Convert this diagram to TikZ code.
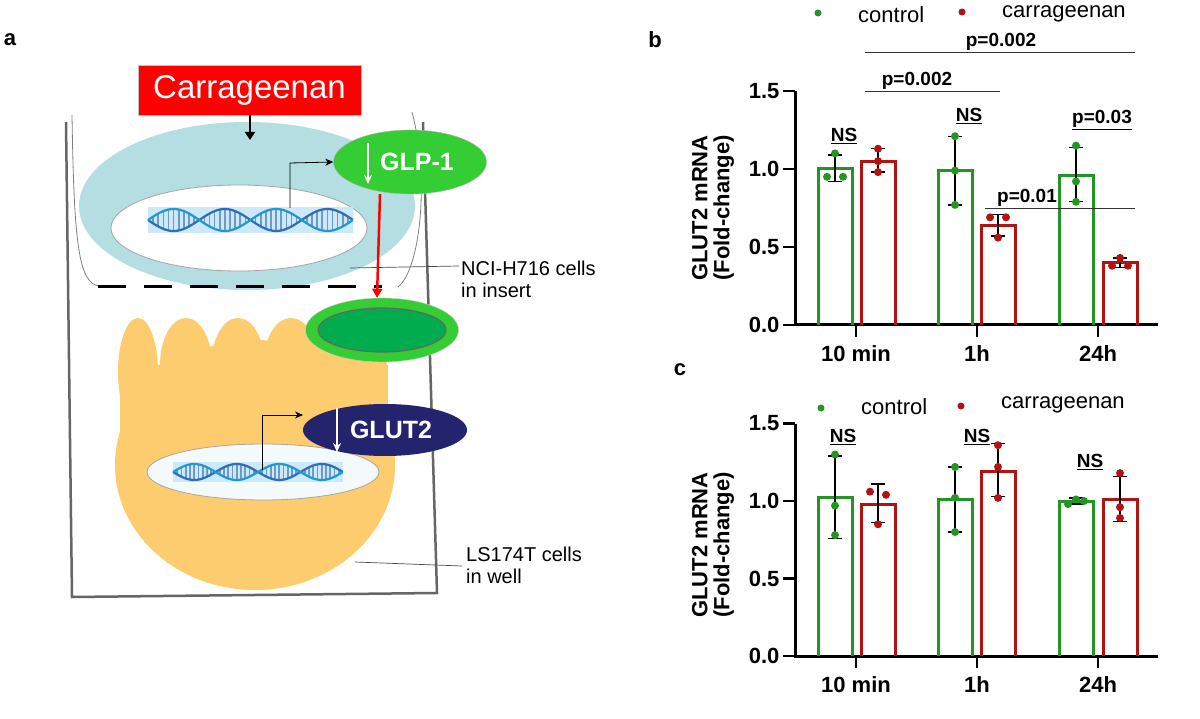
\documentclass[tikz,border=0pt]{standalone}
\usepackage{fontspec}
\setmainfont{Liberation Sans}
\usetikzlibrary{arrows.meta,shapes.geometric}
\definecolor{cgreen}{RGB}{34,150,34}
\definecolor{cred}{RGB}{178,18,18}
\definecolor{cellblue}{RGB}{180,222,226}
\definecolor{yell}{RGB}{253,204,110}
\definecolor{glpgreen}{RGB}{52,205,52}
\definecolor{dkgreen}{RGB}{0,172,78}
\definecolor{navy}{RGB}{36,36,110}
\definecolor{dnablue}{RGB}{45,110,180}
\definecolor{dnalight}{RGB}{205,232,248}
\newcommand\fs[1]{\fontsize{#1}{#1}\selectfont}
% xc val lo hi p1 p2 p3 color jitter
\newcommand\mybar[9]{%
  \draw[#8,line width=3pt] (#1-17,0) -- (#1-17,#2) -- (#1+17,#2) -- (#1+17,0);
  \draw[black,line width=1.3pt] (#1,#3) -- (#1,#4) (#1-7,#3) -- (#1+7,#3) (#1-7,#4) -- (#1+7,#4);
  \fill[#8] (#1,#5) circle (4pt) (#1-#9,#6) circle (4pt) (#1+#9,#7) circle (4pt);
}
% dna: x0 x1 yc amp
\newcommand\mydna[4]{%
  \fill[dnalight] (#1,#3-#4-2) rectangle (#2,#3+#4+2);
  \foreach \k in {0,...,40}{\pgfmathsetmacro\xx{#1+\k*(#2-#1)/40}
    \pgfmathsetmacro\yy{#4*sin(\k*18)}
    \draw[dnablue!70,line width=1.6pt] (\xx,#3-\yy) -- (\xx,#3+\yy);}
  \draw[dnablue,line width=2.2pt,domain=0:1,samples=80] plot ({#1+\x*(#2-#1)},{#3+#4*sin(\x*720)});
  \draw[dnablue!70!cyan,line width=2.2pt,domain=0:1,samples=80] plot ({#1+\x*(#2-#1)},{#3-#4*sin(\x*720)});
}
\begin{document}
\begin{tikzpicture}[x=1pt,y=-1pt,
  lab/.style={font=\fs{20}, align=left, anchor=west, inner sep=0pt},
  tick/.style={font=\bfseries\fs{22}},
  ann/.style={font=\bfseries\fs{19}, inner sep=1pt},
  leg/.style={font=\fs{22}, anchor=west, inner sep=0pt},
  plab/.style={font=\bfseries\fs{22}, inner sep=0pt},
  ylab/.style={font=\bfseries\fs{22},rotate=90,align=center},
  prot/.style={ellipse, inner sep=0pt, font=\bfseries\fs{25}, text=white}]
\useasboundingbox (0,0) rectangle (1200,719);
\fill[white] (0,0) rectangle (1200,719);

% ================= panel a
\node[plab] (la) at (10,40) {a};
% well
\draw[gray!80!black,line width=2.5pt] (66,122) -- (72,597) -- (437,593) -- (423,122);
% insert walls
\draw[gray,line width=0.8pt] (72,115) .. controls (74,240) and (78,285) .. (100,286);
\draw[gray,line width=0.8pt] (412,112) .. controls (430,180) and (420,270) .. (398,287);
% upper cell
\fill[cellblue] (247,206) ellipse [x radius=168, y radius=84];
\draw[gray!70,fill=white,line width=0.8pt] (239,228) ellipse [x radius=128, y radius=43];
\mydna{148}{353}{220}{11}
\draw[black,line width=3pt,dash pattern=on 28pt off 18pt] (98,287) -- (382,287);
% lower cell
\fill[yell] (255,465) ellipse [x radius=140, y radius=125];
\fill[yell] (120,365) rectangle (388,470);
\fill[yell] (138,372) ellipse [x radius=20, y radius=54];
\fill[yell] (186,365) ellipse [x radius=26, y radius=47];
\fill[yell] (238,362) ellipse [x radius=26, y radius=44];
\fill[yell] (291,362) ellipse [x radius=27, y radius=44];
\fill[yell] (345,370) ellipse [x radius=42, y radius=50];
\draw[gray!70,fill=white!85!cellblue,line width=0.8pt] (263,472) ellipse [x radius=116, y radius=28];
\mydna{173}{343}{472}{8}
% proteins
\node[prot, fill=glpgreen, draw=gray!60, minimum width=153pt, minimum height=64pt] (glp) at (410,162) {\hspace*{14pt}GLP-1};
\draw[white,line width=2pt,-{Stealth[length=9pt,width=8pt]}] (368,143) -- (368,184);
\node[ellipse, fill=glpgreen, draw=gray!40, minimum width=153pt, minimum height=64pt] (sec) at (382,330) {};
\node[ellipse, fill=dkgreen, draw=gray!80!black, line width=1.2pt, minimum width=128pt, minimum height=44pt] (seci) at (382,330) {};
\node[prot, fill=navy, minimum width=164pt, minimum height=52pt] (glut) at (385,430) {\hspace*{12pt}GLUT2};
\draw[white,line width=2pt,-{Stealth[length=9pt,width=8pt]}] (337,408) -- (337,452);
% carrageenan
\node[fill=red, draw=gray!50, minimum width=223pt, minimum height=50pt, inner sep=0pt, font=\fs{33}, text=white] (car) at (249.5,90) {Carrageenan};
\draw[black,line width=2.5pt,-{Triangle[length=8pt,width=10pt]}] (car.south -| 250,0) -- (250,140);
% promoter arrows
\coordinate (p1) at (290,208);
\draw[black,line width=0.8pt,-{Stealth[length=8pt,width=7pt]}] (p1) -- (290,163) -- (glp.west);
\coordinate (p2) at (262,470);
\draw[black,line width=0.8pt,-{Stealth[length=8pt,width=7pt]}] (p2) -- (262,415) -- (303,415);
% secretion
\draw[red,line width=2.5pt,-{Triangle[length=9pt,width=10pt]}] (glp.south -| 380,0) -- (sec.north -| 377,0);
% labels
\node[lab] (nci) at (461,279) {NCI-H716 cells\\[2pt]in insert};
\draw[gray!60!black,line width=0.7pt] (350,268) -- (459,266);
\node[lab] (ls) at (466,565) {LS174T cells\\[2pt]in well};
\draw[gray!60!black,line width=0.7pt] (355,562) -- (462,566);

% ================= panel b
\node[plab] (lb) at (655,40) {b};
\fill[cgreen] (818,13) circle (3.5pt); \node[leg] (lgc) at (858,15) {control};
\fill[cred] (962,12) circle (3.5pt); \node[leg] (lgr) at (1002,14) {carrageenan};
\node[ylab] (yb) at (713,208) {GLUT2 mRNA\\(Fold-change)};
\begin{scope}[shift={(795,325)},y=156pt]
  \draw[black,line width=3pt] (0,1.5) -- (0,0) -- (363,0);
  \foreach \v/\t in {0/0.0,0.5/0.5,1/1.0,1.5/1.5}{
    \draw[black,line width=2.5pt] (-12,\v) -- (0,\v);
    \node[tick,anchor=east] at (-12,\v) {\t};}
  \foreach \c/\t in {61/10 min,182/1h,303/24h}{
    \draw[black,line width=2.5pt] (\c,0) -- (\c,-0.08);
    \node[tick,anchor=north] at (\c,-0.11) {\t};}
  \mybar{40}{1.0}{0.92}{1.09}{1.1}{0.95}{0.95}{cgreen}{8}
  \mybar{83}{1.05}{0.98}{1.13}{1.13}{1.05}{0.98}{cred}{0}
  \mybar{160}{0.99}{0.77}{1.21}{1.21}{0.99}{0.77}{cgreen}{0}
  \mybar{203}{0.64}{0.57}{0.71}{0.56}{0.69}{0.69}{cred}{8}
  \mybar{281}{0.96}{0.79}{1.14}{1.15}{0.92}{0.79}{cgreen}{0}
  \mybar{325}{0.40}{0.37}{0.43}{0.43}{0.38}{0.38}{cred}{8}
\end{scope}
\draw[gray!40!black,line width=1pt] (865,53) -- (1135,53);
\node[ann,anchor=south] (pb1) at (1001,52) {p=0.002};
\draw[gray!40!black,line width=1pt] (865,92) -- (1000,92);
\node[ann,anchor=south] (pb2) at (917,91) {p=0.002};
\node[ann,anchor=south] (nsb1) at (844,145) {\underline{NS}};
\node[ann,anchor=south] (nsb2) at (969,125) {\underline{NS}};
\node[ann,anchor=south] (pb3) at (1102,131) {\underline{p=0.03}};
\draw[gray!40!black,line width=1pt] (985,209) -- (1135,209);
\node[ann,anchor=south] (pb4) at (1027,208) {p=0.01};

% ================= panel c
\node[plab] (lc) at (680,370) {c};
\fill[cgreen] (821,408) circle (3.5pt); \node[leg] (lgc2) at (861,407) {control};
\fill[cred] (961,406) circle (3.5pt); \node[leg] (lgr2) at (1001,405) {carrageenan};
\node[ylab] (yc) at (713,545) {GLUT2 mRNA\\(Fold-change)};
\begin{scope}[shift={(795,656)},y=155pt]
  \draw[black,line width=3pt] (0,1.5) -- (0,0) -- (363,0);
  \foreach \v/\t in {0/0.0,0.5/0.5,1/1.0,1.5/1.5}{
    \draw[black,line width=2.5pt] (-12,\v) -- (0,\v);
    \node[tick,anchor=east] at (-12,\v) {\t};}
  \foreach \c/\t in {61/10 min,182/1h,303/24h}{
    \draw[black,line width=2.5pt] (\c,0) -- (\c,-0.08);
    \node[tick,anchor=north] at (\c,-0.11) {\t};}
  \mybar{40}{1.02}{0.76}{1.29}{1.30}{0.97}{0.78}{cgreen}{0}
  \mybar{83}{0.98}{0.86}{1.11}{0.85}{1.06}{1.04}{cred}{8}
  \mybar{160}{1.01}{0.80}{1.22}{1.22}{1.02}{0.80}{cgreen}{0}
  \mybar{203}{1.19}{1.03}{1.37}{1.36}{1.22}{1.02}{cred}{0}
  \mybar{281}{1.00}{0.98}{1.02}{1.01}{0.98}{1.00}{cgreen}{8}
  \mybar{325}{1.01}{0.87}{1.16}{1.18}{0.96}{0.89}{cred}{0}
\end{scope}
\node[ann,anchor=south] (nsc1) at (843,446) {\underline{NS}};
\node[ann,anchor=south] (nsc2) at (977,446) {\underline{NS}};
\node[ann,anchor=south] (nsc3) at (1090,471) {\underline{NS}};
\end{tikzpicture}
\end{document}
